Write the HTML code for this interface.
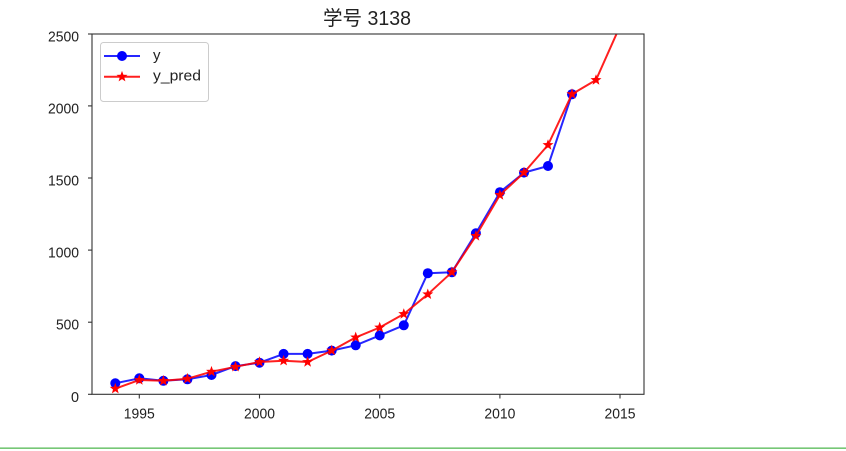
<!DOCTYPE html>
<html>
<head>
<meta charset="utf-8">
<style>
html,body{margin:0;padding:0;background:#fff;}
body{width:846px;height:451px;overflow:hidden;position:relative;}
svg{position:absolute;left:0;top:0;}
</style>
</head>
<body>
<svg width="846" height="451" viewBox="0 0 846 451" xmlns="http://www.w3.org/2000/svg">
  <defs>
    <clipPath id="plot"><rect x="92" y="34" width="552" height="360.3"/></clipPath>
  </defs>
  <rect x="0" y="0" width="846" height="451" fill="#fff"/>

  <!-- title -->
  <text x="367" y="25" font-family="'Liberation Sans','Noto Sans CJK SC',sans-serif" font-size="20" fill="#222" text-anchor="middle" textLength="88" lengthAdjust="spacingAndGlyphs">学号 3138</text>

  <!-- series -->
  <g clip-path="url(#plot)">
    <polyline fill="none" stroke="#0000ff" stroke-opacity="0.85" stroke-width="2" stroke-linejoin="round"
      points="115.3,383.3 139.3,378.3 163.4,380.8 187.4,379.3 211.5,375.0 235.5,366.1 259.5,362.7 283.6,353.9 307.6,353.9 331.7,350.6 355.7,345.3 379.7,335.4 403.8,325.3 427.8,273.2 451.9,272.2 475.9,233.3 499.9,192.2 524.0,172.6 548.0,166.0 572.0,94.2"/>
    <g fill="#0000ff">
      <circle cx="115.3" cy="383.3" r="5"/><circle cx="139.3" cy="378.3" r="5"/><circle cx="163.4" cy="380.8" r="5"/>
      <circle cx="187.4" cy="379.3" r="5"/><circle cx="211.5" cy="375.0" r="5"/><circle cx="235.5" cy="366.1" r="5"/>
      <circle cx="259.5" cy="362.7" r="5"/><circle cx="283.6" cy="353.9" r="5"/><circle cx="307.6" cy="353.9" r="5"/>
      <circle cx="331.7" cy="350.6" r="5"/><circle cx="355.7" cy="345.3" r="5"/><circle cx="379.7" cy="335.4" r="5"/>
      <circle cx="403.8" cy="325.3" r="5"/><circle cx="427.8" cy="273.2" r="5"/><circle cx="451.9" cy="272.2" r="5"/>
      <circle cx="475.9" cy="233.3" r="5"/><circle cx="499.9" cy="192.2" r="5"/><circle cx="524.0" cy="172.6" r="5"/>
      <circle cx="548.0" cy="166.0" r="5"/><circle cx="572.0" cy="94.2" r="5"/>
    </g>

    <polyline fill="none" stroke="#ff0000" stroke-opacity="0.88" stroke-width="2" stroke-linejoin="round"
      points="115.3,388.7 139.3,380.0 163.4,380.8 187.4,378.7 211.5,371.7 235.5,366.8 259.5,362.0 283.6,360.7 307.6,362.0 331.7,350.6 355.7,337.4 379.7,327.5 403.8,314.0 427.8,294.3 451.9,272.2 475.9,235.9 499.9,195.0 524.0,172.6 548.0,145.0 572.0,94.1 596.0,80.0 620.0,26.1"/>
    <g fill="#ff0000">
      <polygon id="s" points="0,-5.8 1.4,-1.95 5.5,-1.8 2.3,0.75 3.4,4.7 0,2.4 -3.4,4.7 -2.3,0.75 -5.5,-1.8 -1.4,-1.95" transform="translate(115.3,388.7)"/>
      <polygon points="0,-5.8 1.4,-1.95 5.5,-1.8 2.3,0.75 3.4,4.7 0,2.4 -3.4,4.7 -2.3,0.75 -5.5,-1.8 -1.4,-1.95" transform="translate(139.3,380.0)"/>
      <polygon points="0,-5.8 1.4,-1.95 5.5,-1.8 2.3,0.75 3.4,4.7 0,2.4 -3.4,4.7 -2.3,0.75 -5.5,-1.8 -1.4,-1.95" transform="translate(163.4,380.8)"/>
      <polygon points="0,-5.8 1.4,-1.95 5.5,-1.8 2.3,0.75 3.4,4.7 0,2.4 -3.4,4.7 -2.3,0.75 -5.5,-1.8 -1.4,-1.95" transform="translate(187.4,378.7)"/>
      <polygon points="0,-5.8 1.4,-1.95 5.5,-1.8 2.3,0.75 3.4,4.7 0,2.4 -3.4,4.7 -2.3,0.75 -5.5,-1.8 -1.4,-1.95" transform="translate(211.5,371.7)"/>
      <polygon points="0,-5.8 1.4,-1.95 5.5,-1.8 2.3,0.75 3.4,4.7 0,2.4 -3.4,4.7 -2.3,0.75 -5.5,-1.8 -1.4,-1.95" transform="translate(235.5,366.8)"/>
      <polygon points="0,-5.8 1.4,-1.95 5.5,-1.8 2.3,0.75 3.4,4.7 0,2.4 -3.4,4.7 -2.3,0.75 -5.5,-1.8 -1.4,-1.95" transform="translate(259.5,362.0)"/>
      <polygon points="0,-5.8 1.4,-1.95 5.5,-1.8 2.3,0.75 3.4,4.7 0,2.4 -3.4,4.7 -2.3,0.75 -5.5,-1.8 -1.4,-1.95" transform="translate(283.6,360.7)"/>
      <polygon points="0,-5.8 1.4,-1.95 5.5,-1.8 2.3,0.75 3.4,4.7 0,2.4 -3.4,4.7 -2.3,0.75 -5.5,-1.8 -1.4,-1.95" transform="translate(307.6,362.0)"/>
      <polygon points="0,-5.8 1.4,-1.95 5.5,-1.8 2.3,0.75 3.4,4.7 0,2.4 -3.4,4.7 -2.3,0.75 -5.5,-1.8 -1.4,-1.95" transform="translate(331.7,350.6)"/>
      <polygon points="0,-5.8 1.4,-1.95 5.5,-1.8 2.3,0.75 3.4,4.7 0,2.4 -3.4,4.7 -2.3,0.75 -5.5,-1.8 -1.4,-1.95" transform="translate(355.7,337.4)"/>
      <polygon points="0,-5.8 1.4,-1.95 5.5,-1.8 2.3,0.75 3.4,4.7 0,2.4 -3.4,4.7 -2.3,0.75 -5.5,-1.8 -1.4,-1.95" transform="translate(379.7,327.5)"/>
      <polygon points="0,-5.8 1.4,-1.95 5.5,-1.8 2.3,0.75 3.4,4.7 0,2.4 -3.4,4.7 -2.3,0.75 -5.5,-1.8 -1.4,-1.95" transform="translate(403.8,314.0)"/>
      <polygon points="0,-5.8 1.4,-1.95 5.5,-1.8 2.3,0.75 3.4,4.7 0,2.4 -3.4,4.7 -2.3,0.75 -5.5,-1.8 -1.4,-1.95" transform="translate(427.8,294.3)"/>
      <polygon points="0,-5.8 1.4,-1.95 5.5,-1.8 2.3,0.75 3.4,4.7 0,2.4 -3.4,4.7 -2.3,0.75 -5.5,-1.8 -1.4,-1.95" transform="translate(451.9,272.2)"/>
      <polygon points="0,-5.8 1.4,-1.95 5.5,-1.8 2.3,0.75 3.4,4.7 0,2.4 -3.4,4.7 -2.3,0.75 -5.5,-1.8 -1.4,-1.95" transform="translate(475.9,235.9)"/>
      <polygon points="0,-5.8 1.4,-1.95 5.5,-1.8 2.3,0.75 3.4,4.7 0,2.4 -3.4,4.7 -2.3,0.75 -5.5,-1.8 -1.4,-1.95" transform="translate(499.9,195.0)"/>
      <polygon points="0,-5.8 1.4,-1.95 5.5,-1.8 2.3,0.75 3.4,4.7 0,2.4 -3.4,4.7 -2.3,0.75 -5.5,-1.8 -1.4,-1.95" transform="translate(524.0,172.6)"/>
      <polygon points="0,-5.8 1.4,-1.95 5.5,-1.8 2.3,0.75 3.4,4.7 0,2.4 -3.4,4.7 -2.3,0.75 -5.5,-1.8 -1.4,-1.95" transform="translate(548.0,145.0)"/>
      <polygon points="0,-5.8 1.4,-1.95 5.5,-1.8 2.3,0.75 3.4,4.7 0,2.4 -3.4,4.7 -2.3,0.75 -5.5,-1.8 -1.4,-1.95" transform="translate(572.0,94.1)"/>
      <polygon points="0,-5.8 1.4,-1.95 5.5,-1.8 2.3,0.75 3.4,4.7 0,2.4 -3.4,4.7 -2.3,0.75 -5.5,-1.8 -1.4,-1.95" transform="translate(596.0,80.0)"/>
      <polygon points="0,-5.8 1.4,-1.95 5.5,-1.8 2.3,0.75 3.4,4.7 0,2.4 -3.4,4.7 -2.3,0.75 -5.5,-1.8 -1.4,-1.95" transform="translate(620.0,26.1)"/>
    </g>
  </g>

  <!-- axes frame -->
  <rect x="92" y="34" width="552" height="360.3" fill="none" stroke="#333" stroke-width="1.1"/>

  <!-- y ticks -->
  <g stroke="#333" stroke-width="1.1">
    <line x1="88" y1="394.3" x2="92" y2="394.3"/>
    <line x1="88" y1="322.2" x2="92" y2="322.2"/>
    <line x1="88" y1="250.1" x2="92" y2="250.1"/>
    <line x1="88" y1="178.0" x2="92" y2="178.0"/>
    <line x1="88" y1="105.9" x2="92" y2="105.9"/>
    <line x1="88" y1="34" x2="92" y2="34"/>
  </g>
  <g font-family="'Liberation Sans',sans-serif" font-size="15" fill="#222" text-anchor="end">
    <text x="79" y="401.8" textLength="8" lengthAdjust="spacingAndGlyphs">0</text>
    <text x="79" y="329.7" textLength="23" lengthAdjust="spacingAndGlyphs">500</text>
    <text x="79" y="257.6" textLength="31" lengthAdjust="spacingAndGlyphs">1000</text>
    <text x="79" y="185.5" textLength="31" lengthAdjust="spacingAndGlyphs">1500</text>
    <text x="79" y="113.4" textLength="31" lengthAdjust="spacingAndGlyphs">2000</text>
    <text x="79" y="41.6" textLength="31" lengthAdjust="spacingAndGlyphs">2500</text>
  </g>

  <!-- x ticks -->
  <g stroke="#333" stroke-width="1.1">
    <line x1="139.3" y1="394.3" x2="139.3" y2="398.5"/>
    <line x1="259.5" y1="394.3" x2="259.5" y2="398.5"/>
    <line x1="379.7" y1="394.3" x2="379.7" y2="398.5"/>
    <line x1="499.9" y1="394.3" x2="499.9" y2="398.5"/>
    <line x1="620.0" y1="394.3" x2="620.0" y2="398.5"/>
  </g>
  <g font-family="'Liberation Sans',sans-serif" font-size="15" fill="#222" text-anchor="middle">
    <text x="139.3" y="418.5" textLength="31" lengthAdjust="spacingAndGlyphs">1995</text>
    <text x="259.5" y="418.5" textLength="31" lengthAdjust="spacingAndGlyphs">2000</text>
    <text x="379.7" y="418.5" textLength="31" lengthAdjust="spacingAndGlyphs">2005</text>
    <text x="499.9" y="418.5" textLength="31" lengthAdjust="spacingAndGlyphs">2010</text>
    <text x="620.0" y="418.5" textLength="31" lengthAdjust="spacingAndGlyphs">2015</text>
  </g>

  <!-- legend -->
  <rect x="100.5" y="42.5" width="108" height="59" rx="3" ry="3" fill="#fff" fill-opacity="0.8" stroke="#cccccc" stroke-width="1"/>
  <line x1="104" y1="56" x2="140" y2="56" stroke="#0000ff" stroke-opacity="0.85" stroke-width="2"/>
  <circle cx="122" cy="56" r="5" fill="#0000ff"/>
  <line x1="104" y1="76.7" x2="140" y2="76.7" stroke="#ff0000" stroke-opacity="0.88" stroke-width="2"/>
  <polygon points="0,-5.8 1.4,-1.95 5.5,-1.8 2.3,0.75 3.4,4.7 0,2.4 -3.4,4.7 -2.3,0.75 -5.5,-1.8 -1.4,-1.95" transform="translate(122,76.7)" fill="#ff0000"/>
  <g font-family="'Liberation Sans',sans-serif" font-size="15" fill="#222">
    <text x="153" y="60">y</text>
    <text x="153" y="80.7" textLength="48" lengthAdjust="spacingAndGlyphs">y_pred</text>
  </g>

  <!-- bottom green rule -->
  <rect x="0" y="447.5" width="846" height="1.3" fill="#55b955"/>
</svg>
</body>
</html>
